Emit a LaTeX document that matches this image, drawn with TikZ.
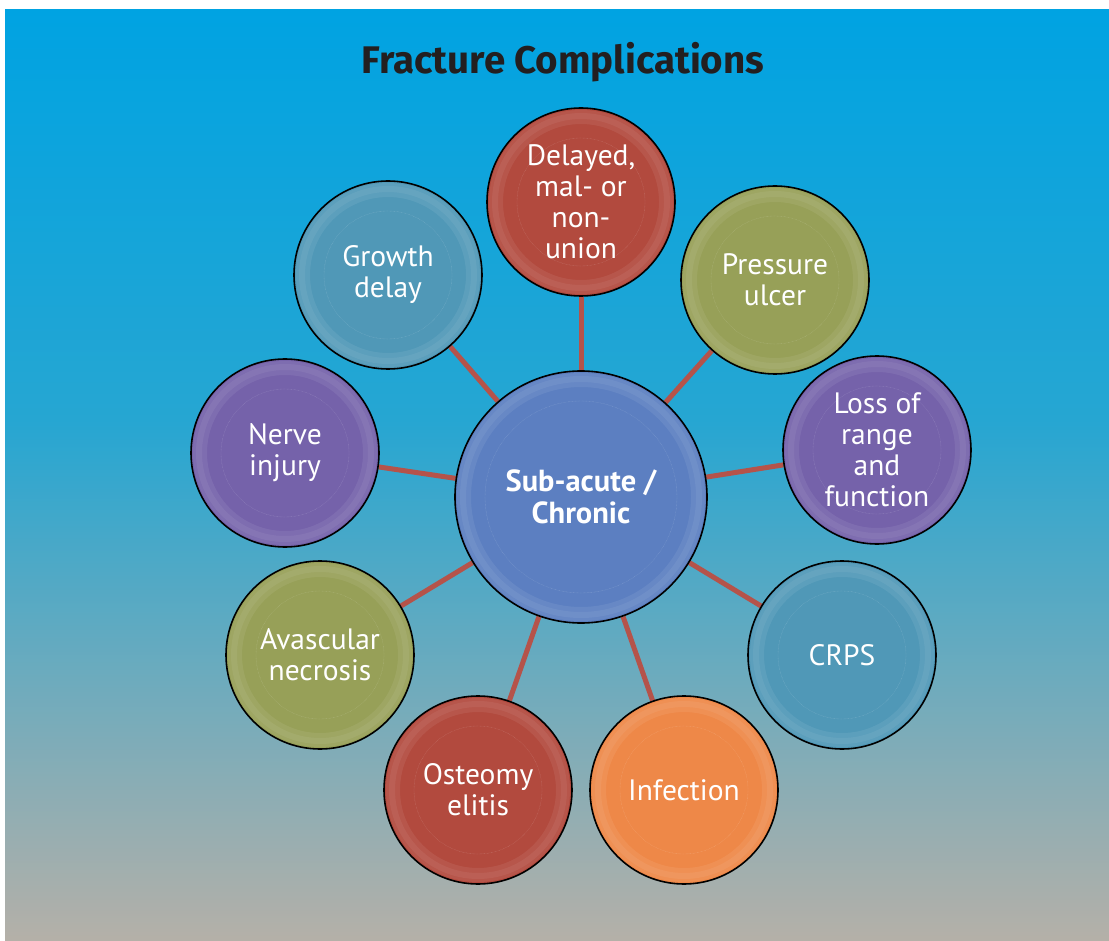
\documentclass[tikz,border=0pt]{standalone}
\usepackage{fontspec}
\setmainfont{PT Sans}
\newfontfamily\titlefont{Fira Sans}
\usetikzlibrary{backgrounds}
\pgfdeclarelayer{back}
\pgfsetlayers{back,background,main}
\definecolor{bgtop}{RGB}{0,163,226}
\definecolor{bgmid}{RGB}{38,166,210}
\definecolor{bgbot}{RGB}{181,176,168}
\definecolor{titleblack}{RGB}{35,31,32}
\definecolor{spokered}{RGB}{181,83,74}
\definecolor{hubblue}{RGB}{92,127,193}
\definecolor{brick}{RGB}{178,74,62}
\definecolor{olive}{RGB}{151,160,88}
\definecolor{violet}{RGB}{117,98,170}
\definecolor{teal}{RGB}{80,152,183}
\definecolor{orange}{RGB}{238,136,72}
\begin{document}
\begin{tikzpicture}[x=1pt, y=-1pt, line join=round, line cap=round,
	ball/.style={circle, draw=black, line width=1.6pt, minimum size=2*#1, inner sep=0pt,
		text=white, align=center, font=\fontsize{29.5}{31}\selectfont,
		path picture={
			\fill[white, opacity=.07, even odd rule] (path picture bounding box.center) circle (#1-2) circle (#1-16);
			\fill[white, opacity=.06, even odd rule] (path picture bounding box.center) circle (#1-5) circle (#1-11);
			\draw[white, opacity=.2, densely dotted, line width=.4pt] (path picture bounding box.center) circle (#1-30);}},
	ball/.default=94,
	hub/.style={ball=126, font=\bfseries\fontsize{30.5}{32}\selectfont},
	spoke/.style={draw=spokered, line width=5pt}]
	\def\xmin{5}
	\def\xmax{1109}
	\def\ymin{10}
	\def\ymax{941}
	\useasboundingbox (0,0) rectangle (1109,941);
	% background
	\begin{pgfonlayer}{back}
		\shade[top color=bgtop, bottom color=bgmid] (\xmin,\ymin) rectangle (\xmax,420);
		\shade[top color=bgmid, bottom color=bgbot] (\xmin,420) rectangle (\xmax,\ymax);
	\end{pgfonlayer}
	\node[font=\titlefont\bfseries\fontsize{38.5}{44}\selectfont, text=titleblack] (title) at (563,62) {Fracture Complications};
	% hub and complications
	\node[hub, fill=hubblue] (chronic) at (581,497) {Sub-acute /\\Chronic};
	\node[ball, fill=brick] (union) at (581,202) {Delayed,\\mal- or\\non-\\union};
	\node[ball, fill=olive] (ulcer) at (775,280) {Pressure\\ulcer};
	\node[ball, fill=violet] (range) at (877,450) {Loss of\\range\\and\\function};
	\node[ball, fill=teal] (crps) at (842,655) {CRPS};
	\node[ball, fill=orange] (infection) at (684,790) {Infection};
	\node[ball, fill=brick] (osteo) at (478,790) {Osteomy\\elitis};
	\node[ball, fill=olive] (necrosis) at (320,655) {Avascular\\necrosis};
	\node[ball, fill=violet] (nerve) at (285,453) {Nerve\\injury};
	\node[ball, fill=teal] (growth) at (388,275) {Growth\\delay};
	\begin{scope}[on background layer]
		\foreach \n in {union, ulcer, range, crps, infection, osteo, necrosis, nerve, growth}
			\draw[spoke] (chronic) -- (\n);
	\end{scope}
\end{tikzpicture}
\end{document}
